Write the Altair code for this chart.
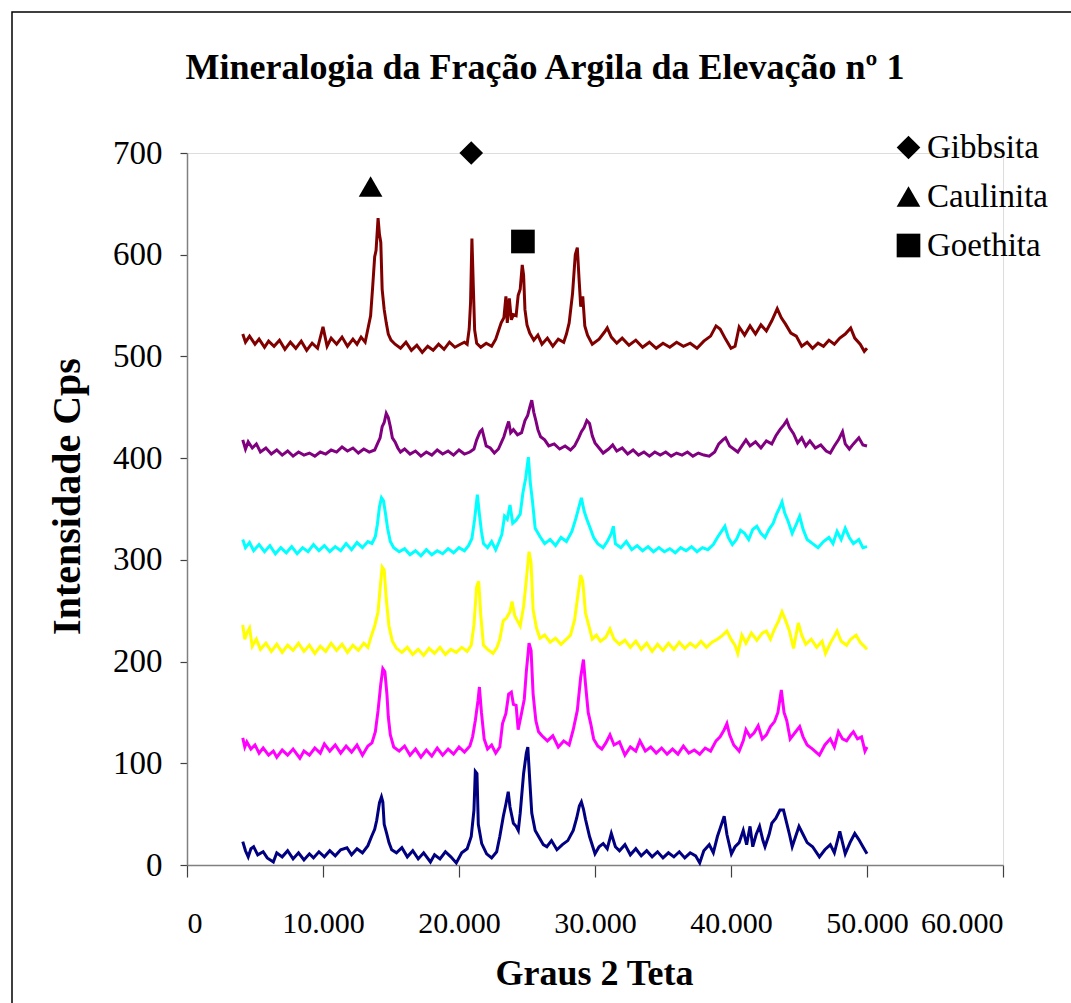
import altair as alt
import pandas as pd

# ---- Diffractogram series (2-theta in degrees, intensity in Cps) ----
maroon_pts = [(4.1,522),(4.3,514),(4.6,520),(5.0,512),(5.3,517),(5.7,509),(6.0,515),(6.4,510),(6.8,516),(7.2,507),(7.6,514),(8.0,508),(8.4,515),(8.8,506),(9.2,513),(9.6,508),(10.0,529),(10.3,510),(10.6,518),(11.0,512),(11.4,519),(11.8,510),(12.2,517),(12.5,512),(12.8,519),(13.1,514),(13.3,527),(13.5,540),(13.65,568),(13.8,598),(13.9,604),(14.05,636),(14.15,620),(14.25,612),(14.35,566),(14.5,546),(14.65,533),(14.8,522),(15.0,516),(15.3,512),(15.7,508),(16.1,514),(16.5,506),(16.9,511),(17.3,504),(17.7,510),(18.1,506),(18.5,512),(18.9,507),(19.3,514),(19.7,509),(20.1,512),(20.4,514),(20.6,512),(20.75,527),(20.85,553),(20.95,616),(21.05,570),(21.15,526),(21.3,513),(21.6,509),(22.0,513),(22.4,510),(22.7,517),(22.9,525),(23.1,533),(23.3,538),(23.45,559),(23.55,533),(23.7,557),(23.85,536),(24.0,541),(24.2,540),(24.35,560),(24.5,566),(24.65,590),(24.75,580),(24.85,546),(25.0,531),(25.2,523),(25.5,516),(25.8,521),(26.1,512),(26.5,518),(26.9,510),(27.3,517),(27.7,514),(27.9,522),(28.1,533),(28.35,562),(28.55,600),(28.7,607),(28.82,578),(28.95,549),(29.1,559),(29.25,530),(29.45,521),(29.8,512),(30.3,517),(30.7,524),(30.9,528),(31.2,519),(31.6,513),(32.0,518),(32.5,511),(33.0,516),(33.5,509),(34.0,514),(34.5,508),(35.0,513),(35.5,509),(36.0,514),(36.5,510),(37.0,513),(37.5,508),(38.0,515),(38.5,520),(38.9,530),(39.2,527),(39.6,517),(40.0,508),(40.3,510),(40.6,529),(41.0,521),(41.4,530),(41.8,522),(42.2,531),(42.6,525),(43.0,535),(43.4,547),(43.7,538),(44.0,532),(44.4,523),(44.8,520),(45.2,510),(45.6,514),(46.0,508),(46.4,513),(46.8,510),(47.2,516),(47.6,512),(48.0,518),(48.4,522),(48.8,528),(49.1,518),(49.5,512),(49.8,505),(50.0,508)]

purple_pts = [(4.1,418),(4.3,409),(4.5,416),(4.8,410),(5.1,414),(5.4,406),(5.8,410),(6.2,404),(6.6,408),(7.0,403),(7.4,407),(7.8,402),(8.2,406),(8.6,403),(9.0,405),(9.4,402),(9.8,406),(10.2,404),(10.6,408),(11.0,406),(11.4,411),(11.8,407),(12.2,410),(12.6,405),(13.0,409),(13.4,406),(13.8,408),(14.0,414),(14.2,420),(14.35,431),(14.5,435),(14.65,444),(14.8,440),(14.95,431),(15.1,420),(15.3,416),(15.5,410),(15.7,406),(16.0,409),(16.4,404),(16.8,407),(17.2,402),(17.6,406),(18.0,403),(18.4,408),(18.8,404),(19.2,407),(19.6,403),(20.0,408),(20.4,404),(20.8,406),(21.1,409),(21.3,418),(21.55,426),(21.7,428),(21.85,420),(22.0,412),(22.3,410),(22.6,405),(22.9,409),(23.1,415),(23.3,421),(23.5,430),(23.65,436),(23.8,425),(24.0,428),(24.3,423),(24.6,425),(24.85,437),(25.05,442),(25.2,450),(25.35,457),(25.5,445),(25.65,437),(25.8,428),(26.0,421),(26.3,418),(26.6,412),(27.0,414),(27.4,409),(27.8,412),(28.2,408),(28.5,412),(28.8,420),(29.0,426),(29.2,430),(29.4,437),(29.6,434),(29.8,422),(30.0,415),(30.3,410),(30.6,405),(31.0,409),(31.3,413),(31.6,407),(32.0,410),(32.4,404),(32.8,408),(33.2,403),(33.6,406),(34.0,402),(34.4,406),(34.8,403),(35.2,406),(35.6,402),(36.0,405),(36.4,403),(36.8,406),(37.2,402),(37.6,405),(38.0,403),(38.4,402),(38.8,406),(39.1,414),(39.4,418),(39.6,420),(39.9,412),(40.2,409),(40.5,406),(40.8,412),(41.1,418),(41.4,412),(41.8,416),(42.2,410),(42.6,417),(43.0,414),(43.3,422),(43.6,428),(43.9,433),(44.1,437),(44.3,430),(44.6,424),(44.9,415),(45.2,420),(45.5,412),(45.8,417),(46.2,410),(46.6,413),(47.0,407),(47.3,405),(47.6,412),(47.9,418),(48.2,426),(48.4,414),(48.7,409),(49.0,414),(49.4,420),(49.7,413),(50.0,412)]

cyan_pts = [(4.1,320),(4.3,312),(4.6,317),(4.9,309),(5.3,315),(5.7,308),(6.1,314),(6.5,306),(6.9,312),(7.3,307),(7.7,313),(8.1,306),(8.5,312),(8.9,308),(9.3,315),(9.7,309),(10.1,314),(10.5,308),(10.9,313),(11.3,309),(11.7,316),(12.1,310),(12.5,317),(12.9,312),(13.3,318),(13.6,316),(13.85,323),(14.0,335),(14.15,352),(14.3,361),(14.45,358),(14.6,345),(14.75,331),(14.95,318),(15.2,312),(15.6,308),(16.0,311),(16.4,305),(16.8,309),(17.2,304),(17.6,310),(18.0,305),(18.4,309),(18.8,306),(19.2,311),(19.6,307),(20.0,312),(20.4,309),(20.7,314),(20.95,321),(21.15,340),(21.35,364),(21.5,345),(21.65,328),(21.8,316),(22.1,312),(22.4,318),(22.7,310),(22.95,318),(23.15,325),(23.35,343),(23.55,340),(23.75,354),(23.95,336),(24.2,339),(24.5,345),(24.7,366),(24.9,380),(25.1,401),(25.25,375),(25.4,358),(25.6,331),(25.95,323),(26.3,316),(26.7,320),(27.1,314),(27.5,322),(27.9,318),(28.3,328),(28.6,341),(28.8,351),(29.0,361),(29.2,348),(29.4,340),(29.65,331),(29.9,322),(30.2,316),(30.6,312),(30.9,318),(31.2,326),(31.35,333),(31.5,316),(31.9,312),(32.3,318),(32.7,310),(33.1,314),(33.5,309),(33.9,313),(34.3,308),(34.7,312),(35.1,308),(35.5,311),(35.9,307),(36.3,312),(36.7,309),(37.1,313),(37.5,308),(37.9,312),(38.3,310),(38.7,315),(39.0,322),(39.3,328),(39.55,333),(39.8,322),(40.1,315),(40.4,320),(40.7,329),(41.0,326),(41.3,320),(41.6,330),(41.9,333),(42.2,326),(42.5,322),(42.8,330),(43.1,336),(43.35,345),(43.6,352),(43.75,357),(43.95,346),(44.2,338),(44.5,326),(44.8,335),(45.05,343),(45.3,330),(45.6,320),(46.0,316),(46.4,312),(46.8,318),(47.2,322),(47.5,316),(47.8,328),(48.1,320),(48.4,331),(48.7,322),(49.0,316),(49.4,320),(49.7,312),(50.0,313)]

yellow_pts = [(4.1,236),(4.25,222),(4.4,228),(4.6,233),(4.8,215),(5.1,222),(5.4,212),(5.8,218),(6.2,210),(6.6,217),(7.0,209),(7.4,216),(7.8,211),(8.2,218),(8.6,210),(9.0,216),(9.4,208),(9.8,215),(10.2,210),(10.6,218),(11.0,211),(11.4,217),(11.8,209),(12.2,216),(12.6,211),(13.0,218),(13.3,214),(13.55,225),(13.8,235),(14.05,249),(14.2,272),(14.35,293),(14.5,290),(14.65,262),(14.85,235),(15.1,220),(15.4,213),(15.8,209),(16.2,214),(16.6,207),(17.0,212),(17.4,206),(17.8,213),(18.2,208),(18.6,214),(19.0,207),(19.4,212),(19.8,209),(20.2,214),(20.6,210),(20.9,216),(21.1,236),(21.3,274),(21.45,279),(21.6,246),(21.8,216),(22.1,212),(22.5,208),(22.8,214),(23.0,222),(23.25,240),(23.5,243),(23.75,249),(23.9,259),(24.1,245),(24.3,240),(24.5,235),(24.75,254),(24.95,280),(25.15,308),(25.3,297),(25.45,251),(25.7,233),(25.95,223),(26.3,226),(26.7,219),(27.1,223),(27.5,217),(27.9,222),(28.2,226),(28.5,241),(28.7,261),(28.95,285),(29.1,279),(29.3,248),(29.55,235),(29.8,222),(30.1,226),(30.4,220),(30.8,224),(31.1,232),(31.4,222),(31.8,217),(32.2,221),(32.6,214),(33.0,220),(33.4,212),(33.8,218),(34.2,210),(34.6,217),(35.0,211),(35.4,218),(35.8,212),(36.2,219),(36.6,213),(37.0,218),(37.4,214),(37.8,220),(38.2,214),(38.6,219),(39.0,222),(39.4,226),(39.7,230),(40.0,222),(40.3,216),(40.5,208),(40.8,226),(41.1,218),(41.5,228),(41.9,221),(42.3,228),(42.6,230),(42.9,222),(43.2,232),(43.5,240),(43.75,249),(44.0,241),(44.3,230),(44.6,213),(44.95,238),(45.2,226),(45.5,217),(45.9,222),(46.3,214),(46.7,220),(46.95,208),(47.3,218),(47.6,225),(47.8,230),(48.1,220),(48.5,216),(48.8,222),(49.2,226),(49.5,219),(49.8,215),(50.0,212)]

magenta_pts = [(4.1,125),(4.25,116),(4.4,121),(4.7,114),(5.0,118),(5.3,110),(5.6,115),(6.0,108),(6.35,112),(6.6,106),(7.0,113),(7.4,108),(7.8,114),(8.3,105),(8.6,112),(9.0,108),(9.4,115),(9.8,110),(10.1,119),(10.5,112),(10.9,118),(11.3,110),(11.7,117),(12.1,111),(12.5,118),(12.9,108),(13.3,117),(13.6,120),(13.85,131),(14.05,152),(14.25,178),(14.4,193),(14.55,190),(14.7,168),(14.8,146),(14.95,128),(15.2,116),(15.6,112),(16.0,117),(16.4,108),(16.8,114),(17.2,106),(17.6,113),(18.0,107),(18.4,115),(18.8,108),(19.2,114),(19.6,109),(20.0,116),(20.4,111),(20.8,117),(21.0,126),(21.2,142),(21.4,162),(21.5,175),(21.65,150),(21.85,124),(22.1,114),(22.4,118),(22.7,110),(23.0,116),(23.2,139),(23.45,149),(23.65,168),(23.85,170),(24.0,158),(24.2,157),(24.35,133),(24.55,146),(24.8,163),(24.95,190),(25.15,218),(25.3,211),(25.45,168),(25.65,142),(25.85,131),(26.1,127),(26.5,122),(26.9,127),(27.3,116),(27.7,122),(28.1,118),(28.4,133),(28.7,152),(28.95,185),(29.15,202),(29.3,178),(29.5,150),(29.7,138),(29.9,124),(30.2,117),(30.5,114),(30.8,120),(31.1,128),(31.4,118),(31.8,121),(32.2,108),(32.6,116),(33.0,112),(33.3,122),(33.7,112),(34.1,116),(34.5,110),(34.9,115),(35.3,109),(35.7,114),(36.1,109),(36.5,117),(36.9,110),(37.3,113),(37.7,109),(38.1,115),(38.5,112),(38.9,122),(39.2,126),(39.5,133),(39.7,139),(39.9,128),(40.2,118),(40.6,112),(40.9,122),(41.1,133),(41.4,126),(41.7,130),(42.0,137),(42.3,124),(42.6,128),(42.9,136),(43.2,141),(43.45,150),(43.7,172),(43.9,150),(44.1,142),(44.35,124),(44.7,130),(45.05,136),(45.3,126),(45.6,118),(46.0,114),(46.5,108),(46.9,118),(47.3,124),(47.6,116),(47.9,131),(48.2,124),(48.5,122),(48.8,128),(49.0,131),(49.3,124),(49.6,126),(49.85,112),(50.0,116)]

navy_pts = [(4.1,23),(4.3,14),(4.5,8),(4.7,16),(4.9,18),(5.2,10),(5.6,13),(5.9,7),(6.35,3),(6.6,12),(7.0,8),(7.4,14),(7.8,6),(8.2,12),(8.6,5),(9.0,11),(9.3,7),(9.7,13),(10.1,8),(10.5,14),(10.9,9),(11.3,15),(11.76,17),(12.1,10),(12.5,16),(12.9,12),(13.3,19),(13.57,28),(13.8,35),(13.95,44),(14.15,61),(14.3,67),(14.4,62),(14.5,40),(14.68,31),(14.85,22),(15.05,15),(15.4,12),(15.8,17),(16.2,8),(16.6,14),(17.0,6),(17.4,12),(17.9,3),(18.2,10),(18.6,6),(19.0,13),(19.4,8),(19.8,2),(20.2,12),(20.6,16),(20.9,28),(21.1,54),(21.2,92),(21.32,90),(21.42,40),(21.67,21),(22.03,11),(22.4,7),(22.77,13),(23.0,28),(23.26,48),(23.45,60),(23.62,72),(23.75,57),(24.0,41),(24.2,38),(24.36,34),(24.5,51),(24.75,90),(24.95,110),(25.06,116),(25.2,84),(25.35,51),(25.6,34),(25.98,25),(26.2,20),(26.46,18),(26.8,24),(27.2,15),(27.6,20),(28.0,24),(28.4,34),(28.65,46),(28.85,58),(29.0,62),(29.15,55),(29.3,45),(29.6,28),(30.0,11),(30.3,18),(30.6,21),(30.9,16),(31.2,31),(31.5,18),(31.8,14),(32.2,20),(32.6,10),(33.0,16),(33.4,9),(33.8,14),(34.2,8),(34.6,13),(35.0,7),(35.4,12),(35.8,8),(36.2,13),(36.6,7),(37.0,12),(37.4,9),(37.7,2),(38.0,14),(38.4,20),(38.7,12),(39.0,28),(39.2,36),(39.5,48),(39.7,30),(40.03,11),(40.3,18),(40.6,22),(40.9,34),(41.15,20),(41.4,38),(41.6,18),(41.85,30),(42.1,38),(42.35,24),(42.5,18),(42.8,30),(43.0,41),(43.3,46),(43.6,54),(43.86,54),(44.1,41),(44.3,30),(44.5,18),(44.75,28),(45.0,38),(45.3,30),(45.6,22),(46.0,18),(46.5,8),(46.9,15),(47.3,20),(47.6,12),(48.0,33),(48.2,22),(48.4,11),(48.75,22),(49.1,31),(49.4,25),(49.7,18),(50.0,11)]

series_names = ["Amostra 6", "Amostra 5", "Amostra 4", "Amostra 3", "Amostra 2", "Amostra 1"]
series_colors = ["#800000", "#800080", "#00FFFF", "#FFFF00", "#FF00FF", "#000080"]
series_points = [maroon_pts, purple_pts, cyan_pts, yellow_pts, magenta_pts, navy_pts]

# ---- Mineral peak markers ----
minerals = ["Gibbsita", "Caulinita", "Goethita"]
mineral_theta = [20.9, 13.5, 24.7]
mineral_cps = [700, 667, 613]
mineral_shapes = ["diamond", "triangle-up", "square"]

rows = []
for name, pts in zip(series_names, series_points):
    for t, c in pts:
        rows.append({"serie": name, "theta": t, "cps": c})
df = pd.DataFrame(rows)

mk = pd.DataFrame({"mineral": minerals, "theta": mineral_theta, "cps": mineral_cps})

FONT = "Liberation Serif"

x_axis = alt.Axis(
    values=[0, 10, 20, 30, 40, 50, 60],
    labelExpr="datum.value == 0 ? '0' : format(datum.value, '.0f') + '.000'",
    grid=False, domainColor="#808080", domainWidth=1.5,
    tickColor="#404040", tickSize=12, tickWidth=1.2,
    labelFont=FONT, labelFontSize=30, labelColor="black", labelPadding=31,
    title="Graus 2 Teta", titleFont=FONT, titleFontSize=36, titleFontWeight="bold",
    titleColor="black", titleX=407, titleY=108, titleBaseline="middle", titleAlign="center",
)
y_axis = alt.Axis(
    values=[0, 100, 200, 300, 400, 500, 600, 700],
    grid=False, domainColor="#808080", domainWidth=1.5,
    tickColor="#404040", tickSize=7, tickWidth=1.2,
    labelFont=FONT, labelFontSize=33, labelColor="black", labelPadding=18,
    title="Intensidade Cps", titleFont=FONT, titleFontSize=40, titleFontWeight="bold",
    titleColor="black", titleX=-120, titleY=343, titleBaseline="middle", titleAlign="center",
    titleAngle=270,
)

xs = alt.Scale(domain=[0, 60], nice=False, zero=False)
ys = alt.Scale(domain=[0, 700], nice=False)

border = alt.Chart(pd.DataFrame({"k": [0]})).mark_rect(
    fillOpacity=0, stroke="black", strokeWidth=1.5
).encode(
    x=alt.value(-175), x2=alt.value(900), y=alt.value(-141), y2=alt.value(900)
)

lines = alt.Chart(df).mark_line(strokeWidth=3).encode(
    x=alt.X("theta:Q", scale=xs, axis=x_axis),
    y=alt.Y("cps:Q", scale=ys, axis=y_axis),
    color=alt.Color("serie:N", scale=alt.Scale(domain=series_names, range=series_colors), legend=None),
)

markers = alt.Chart(mk).mark_point(filled=True, size=560, opacity=1, color="black").encode(
    x=alt.X("theta:Q", scale=xs),
    y=alt.Y("cps:Q", scale=ys),
    shape=alt.Shape(
        "mineral:N",
        scale=alt.Scale(domain=minerals, range=mineral_shapes),
        legend=alt.Legend(
            title=None, orient="none", legendX=705, legendY=-22,
            labelFont=FONT, labelFontSize=33, labelColor="black", labelOffset=2,
            symbolSize=560, symbolFillColor="black", symbolStrokeColor="black",
            symbolOpacity=1, rowPadding=15, padding=0,
        ),
    ),
)

chart = alt.layer(border, lines, markers).properties(
    width=816, height=712,
    autosize=alt.AutoSizeParams(type="none"),
    padding={"left": 187, "top": 153, "right": 68, "bottom": 138},
    title=alt.Title(
        text="Mineralogia da Fração Argila da Elevação nº 1",
        font=FONT, fontSize=36, fontWeight="bold", color="black",
        anchor="middle", dx=-50, offset=0, dy=104, baseline="alphabetic",
    ),
).configure_view(strokeWidth=0).configure(background="white")

chart.save("out.html", embed_options={"renderer": "svg", "actions": False})
